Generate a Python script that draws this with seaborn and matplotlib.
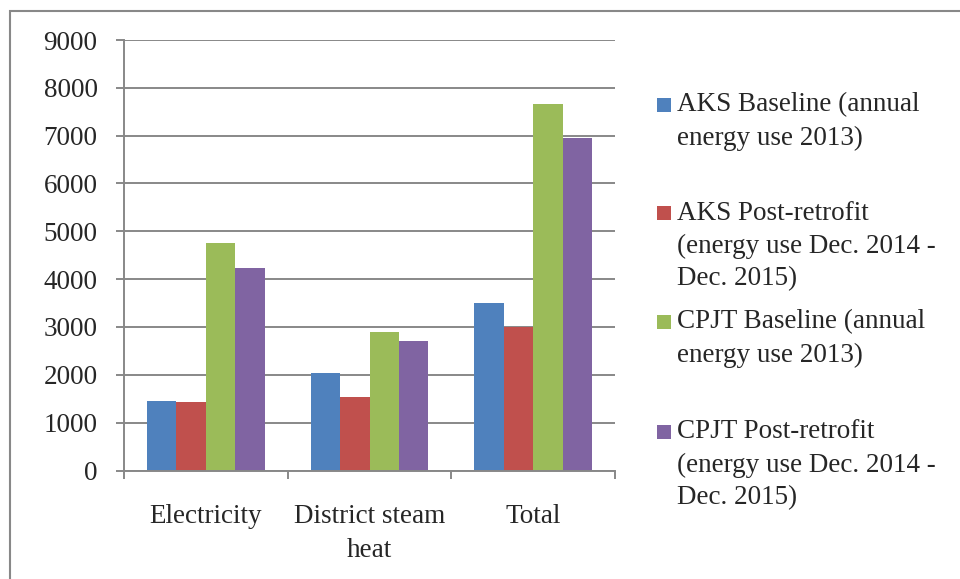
import matplotlib
matplotlib.use("Agg")
import matplotlib.pyplot as plt
from matplotlib.patches import Rectangle
import pandas as pd
import seaborn as sns

categories = ["Electricity", "District steam\nheat", "Total"]
series = [
    "AKS Baseline (annual\nenergy use 2013)",
    "AKS Post-retrofit\n(energy use Dec. 2014 -\nDec. 2015)",
    "CPJT Baseline (annual\nenergy use 2013)",
    "CPJT Post-retrofit\n(energy use Dec. 2014 -\nDec. 2015)",
]
aks_baseline = [1460, 2030, 3500]
aks_post = [1430, 1540, 3000]
cpjt_baseline = [4750, 2900, 7670]
cpjt_post = [4230, 2710, 6950]
colors = ["#4F81BD", "#C0504D", "#9BBB59", "#8064A2"]
y_ticks = [0, 1000, 2000, 3000, 4000, 5000, 6000, 7000, 8000, 9000]

rows = []
for name, vals in zip(series, [aks_baseline, aks_post, cpjt_baseline, cpjt_post]):
    for cat, v in zip(categories, vals):
        rows.append({"category": cat, "series": name, "value": v})
df = pd.DataFrame(rows)

sns.set_style("white")
plt.rcParams["font.family"] = ["Liberation Serif", "DejaVu Serif"]
grey = "#888888"
fs = 19.5

fig = plt.figure(figsize=(9.6, 5.79), dpi=100)
ax = fig.add_axes([124 / 960, 108.5 / 579, 491 / 960, 430.5 / 579])

sns.barplot(
    data=df, x="category", y="value", hue="series",
    order=categories, hue_order=series, palette=colors,
    width=0.72, gap=0, saturation=1, legend=False, ax=ax,
    edgecolor="none",
)

ax.set_ylim(0, 9000)
ax.set_xlim(-0.5, 2.5)
ax.set_yticks(y_ticks)
ax.set_ylabel("")
ax.set_xlabel("")
ax.yaxis.grid(True, color=grey, linewidth=1.4)
ax.set_axisbelow(True)
for s in ["top", "right"]:
    ax.spines[s].set_visible(False)
for s in ["left", "bottom"]:
    ax.spines[s].set_color(grey)
    ax.spines[s].set_linewidth(1.4)

# category boundaries as ticks, labels at centres
ax.set_xticks([-0.5, 0.5, 1.5, 2.5])
ax.set_xticklabels([])
ax.set_xticks([0, 1, 2], minor=True)
ax.set_xticklabels(categories, minor=True, fontsize=fs)
ax.tick_params(axis="x", which="major", direction="out", length=6, width=1.4, color=grey)
ax.tick_params(axis="x", which="minor", length=0, pad=24)
ax.tick_params(axis="y", direction="out", length=6, width=1.4, color=grey, pad=13, labelsize=fs)
ax.tick_params(left=True, bottom=True)
for lab in ax.get_xticklabels(minor=True):
    lab.set_linespacing(1.5)

# legend
line_h = 33
starts = [105, 213, 322, 432]
for name, col, y0 in zip(series, colors, starts):
    fig.patches.append(Rectangle((657 / 960, 1 - (y0 + 7) / 579), 14 / 960, 14 / 579,
                                 transform=fig.transFigure, facecolor=col, edgecolor="none"))
    for i, line in enumerate(name.split("\n")):
        fig.text(677 / 960, 1 - (y0 + i * line_h) / 579, line, fontsize=fs,
                 va="center", ha="left")

# outer frame
fig.patches.append(Rectangle((10 / 960, -0.1), 1.2, 1.1 - 10.5 / 579,
                             transform=fig.transFigure, facecolor="none",
                             edgecolor=grey, linewidth=1.5))

fig.savefig("out.png", dpi=100)
